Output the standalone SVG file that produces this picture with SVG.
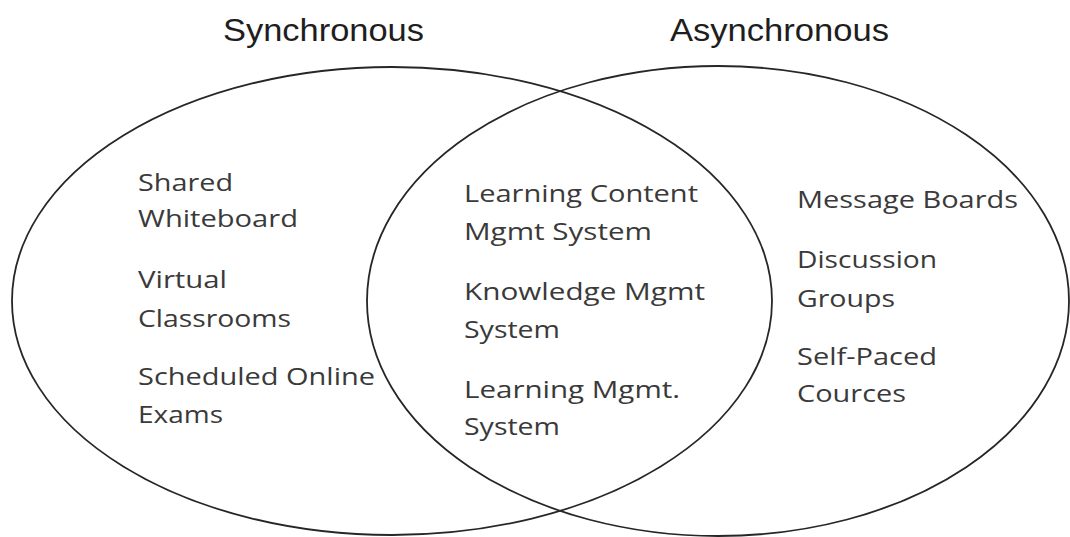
<svg xmlns="http://www.w3.org/2000/svg" width="1070" height="537" viewBox="0 0 1070 537">
<style>
.ell{fill:none;stroke:#262626;stroke-width:1.8}
.hd{font-family:"Liberation Sans",Arial,sans-serif;font-size:31px;fill:#1e1e1e}
.tx{font-family:"Open Sans","Noto Sans",sans-serif;font-size:24px;fill:#3a3a3a}
</style>
<rect width="1070" height="537" fill="#ffffff"/>
<g id="connectors"></g>
<g id="sync">
<ellipse class="ell" cx="392" cy="301" rx="380" ry="234"/>
<text class="hd" x="223" y="41" textLength="201" lengthAdjust="spacingAndGlyphs">Synchronous</text>
<text class="tx" x="138" y="191" textLength="95" lengthAdjust="spacingAndGlyphs">Shared</text>
<text class="tx" x="138" y="227" textLength="160" lengthAdjust="spacingAndGlyphs">Whiteboard</text>
<text class="tx" x="138" y="288" textLength="89" lengthAdjust="spacingAndGlyphs">Virtual</text>
<text class="tx" x="138" y="327" textLength="153" lengthAdjust="spacingAndGlyphs">Classrooms</text>
<text class="tx" x="138" y="385" textLength="237" lengthAdjust="spacingAndGlyphs">Scheduled Online</text>
<text class="tx" x="138" y="423" textLength="85" lengthAdjust="spacingAndGlyphs">Exams</text>
</g>
<g id="async">
<ellipse class="ell" cx="718" cy="301" rx="351" ry="235"/>
<text class="hd" x="670" y="41" textLength="219" lengthAdjust="spacingAndGlyphs">Asynchronous</text>
<text class="tx" x="797" y="208" textLength="221" lengthAdjust="spacingAndGlyphs">Message Boards</text>
<text class="tx" x="797" y="268" textLength="140" lengthAdjust="spacingAndGlyphs">Discussion</text>
<text class="tx" x="797" y="307" textLength="98" lengthAdjust="spacingAndGlyphs">Groups</text>
<text class="tx" x="797" y="365" textLength="140" lengthAdjust="spacingAndGlyphs">Self-Paced</text>
<text class="tx" x="797" y="402" textLength="109" lengthAdjust="spacingAndGlyphs">Cources</text>
</g>
<g id="both">
<text class="tx" x="464" y="202" textLength="234" lengthAdjust="spacingAndGlyphs">Learning Content</text>
<text class="tx" x="464" y="240" textLength="188" lengthAdjust="spacingAndGlyphs">Mgmt System</text>
<text class="tx" x="464" y="300" textLength="241" lengthAdjust="spacingAndGlyphs">Knowledge Mgmt</text>
<text class="tx" x="464" y="338" textLength="96" lengthAdjust="spacingAndGlyphs">System</text>
<text class="tx" x="464" y="398" textLength="216" lengthAdjust="spacingAndGlyphs">Learning Mgmt.</text>
<text class="tx" x="464" y="435" textLength="96" lengthAdjust="spacingAndGlyphs">System</text>
</g>
</svg>
